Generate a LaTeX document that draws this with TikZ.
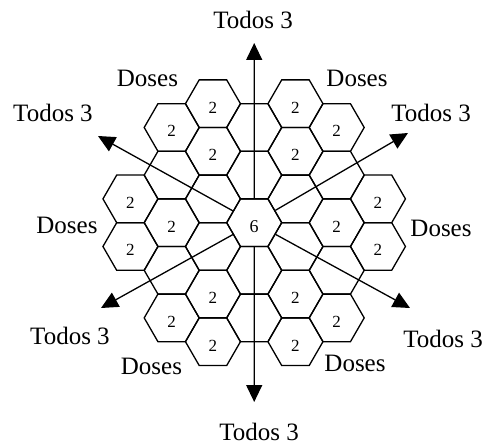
\documentclass[tikz,border=0pt]{standalone}
\usepackage{fontspec}
\setmainfont{Liberation Serif}
\usetikzlibrary{shapes.geometric,arrows.meta}
\begin{document}
\begin{tikzpicture}[x=1pt,y=-1pt,
  hexcell/.style={draw, regular polygon, regular polygon sides=6, minimum size=55pt,
    inner sep=0pt, line width=1.3pt, font=\fontsize{17}{17}\selectfont,
    text height=19pt, text depth=0pt},
  lbl/.style={font=\fontsize{25}{30}\selectfont, inner sep=0pt},
  arr/.style={line width=1.3pt, -{Triangle[length=17pt,width=16pt]}}]
\useasboundingbox (0,0) rectangle (487,446);
% hexagonal cells
\foreach \q/\k/\t [count=\i] in {
  0/-2/{},0/-1/{},0/1/{},0/2/{},
  1/0.5/{},1/-0.5/{},1/1.5/2,1/-1.5/2,1/2.5/2,1/-2.5/2,
  -1/0.5/{},-1/-0.5/{},-1/1.5/2,-1/-1.5/2,-1/2.5/2,-1/-2.5/2,
  2/0/2,2/1/{},2/-1/{},2/2/2,2/-2/2,
  -2/0/2,-2/1/{},-2/-1/{},-2/2/2,-2/-2/2,
  3/0.5/2,3/-0.5/2,-3/0.5/2,-3/-0.5/2}
  {\node[hexcell] (h\i) at ({254.2+41.25*\q},{222.7-47.6*\k}) {\t};}
\node[hexcell, font=\fontsize{18}{18}\selectfont] (c0) at (254.2,222.7) {6};
% arrow ends
\coordinate (tN) at (254.2,43);
\coordinate (tS) at (254.2,402);
\coordinate (tNE) at (408,133);
\coordinate (tSE) at (410,308);
\coordinate (tSW) at (101,308);
\coordinate (tNW) at (98,136);
\foreach \e in {tN,tS,tNE,tSE,tSW,tNW} {\draw[arr] (c0) -- (\e);}
% labels
\node[lbl] (lN) at (253,20) {Todos 3};
\node[lbl] (lS) at (259,432) {Todos 3};
\node[lbl] (lNW) at (53,113) {Todos 3};
\node[lbl] (lNE) at (431,113) {Todos 3};
\node[lbl] (lSW) at (70,336) {Todos 3};
\node[lbl] (lSE) at (443,339) {Todos 3};
\node[lbl] (dNW) at (147.5,78) {Doses};
\node[lbl] (dNE) at (357,78) {Doses};
\node[lbl] (dW) at (67,225) {Doses};
\node[lbl] (dE) at (441,228) {Doses};
\node[lbl] (dSW) at (151.5,366) {Doses};
\node[lbl] (dSE) at (355,363) {Doses};
\end{tikzpicture}
\end{document}
